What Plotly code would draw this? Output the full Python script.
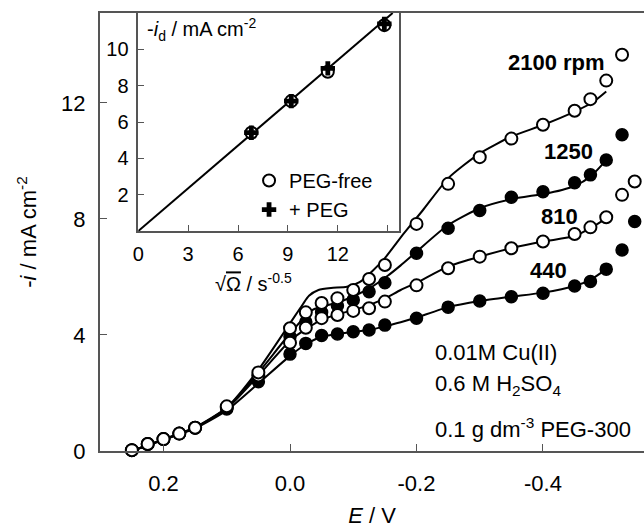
import plotly.graph_objects as go

FONT = "Arial, Liberation Sans, sans-serif"
AXC = "#555555"

# ---- main panel: polarisation curves ------------------------------------
# potential E / V at which currents were sampled
E_pts = [0.25, 0.225, 0.2, 0.175, 0.15, 0.1, 0.05, 0.0, -0.025, -0.05, -0.075,
         -0.1, -0.125, -0.15, -0.2, -0.25, -0.3, -0.35, -0.4, -0.45, -0.475,
         -0.5, -0.525]
E_pts_long = E_pts + [-0.545]

# measured -i / mA cm^-2
i_2100 = [0.03, 0.24, 0.41, 0.60, 0.80, 1.54, 2.71, 4.23, 4.78, 5.10, 5.27,
          5.55, 5.93, 6.41, 7.83, 9.21, 10.13, 10.77, 11.25, 11.73, 12.13,
          12.77, 13.66]
i_1250 = [0.03, 0.24, 0.41, 0.60, 0.80, 1.50, 2.60, 3.95, 4.45, 4.78, 5.01,
          5.21, 5.49, 5.80, 6.82, 7.68, 8.29, 8.75, 8.94, 9.25, 9.52,
          10.03, 10.90]
i_810 = [0.03, 0.24, 0.41, 0.60, 0.80, 1.50, 2.60, 3.73, 4.25, 4.58, 4.69,
         4.83, 4.92, 5.15, 5.71, 6.30, 6.70, 6.99, 7.22, 7.48, 7.71,
         8.06, 8.83, 9.29]
i_440 = [0.03, 0.24, 0.41, 0.60, 0.80, 1.45, 2.39, 3.34, 3.71, 3.98, 4.03,
         4.11, 4.17, 4.34, 4.58, 4.96, 5.17, 5.32, 5.44, 5.69, 5.84,
         6.27, 6.93, 7.91]

# model curves
E_fit_2100 = [0.25, 0.2, 0.15, 0.1, 0.05, 0.0, -0.02, -0.03, -0.045, -0.065,
              -0.09, -0.11, -0.13, -0.15, -0.18, -0.21, -0.25, -0.3, -0.35,
              -0.4, -0.45, -0.48, -0.5]
i_fit_2100 = [0.0, 0.4, 0.82, 1.5, 2.8, 4.4, 5.05, 5.35, 5.55, 5.62, 5.66,
              5.82, 6.2, 6.65, 7.5, 8.3, 9.4, 10.26, 10.84, 11.24, 11.7,
              12.04, 12.39]
E_fit_1250 = [0.25, 0.2, 0.15, 0.1, 0.05, 0.0, -0.035, -0.08, -0.125, -0.155,
              -0.175, -0.2, -0.25, -0.3, -0.35, -0.4, -0.43, -0.45, -0.475,
              -0.5]
i_fit_1250 = [0.0, 0.4, 0.8, 1.48, 2.7, 4.05, 4.86, 5.15, 5.6, 6.05, 6.4,
              6.87, 7.79, 8.37, 8.68, 8.86, 9.0, 9.14, 9.46, 10.03]
E_fit_810 = [0.25, 0.2, 0.15, 0.1, 0.05, 0.0, -0.025, -0.05, -0.075, -0.1,
             -0.125, -0.15, -0.175, -0.2, -0.25, -0.3, -0.35, -0.4, -0.45,
             -0.475, -0.5]
i_fit_810 = [0.0, 0.4, 0.8, 1.46, 2.6, 3.8, 4.2, 4.52, 4.71, 4.86, 5.03,
             5.26, 5.55, 5.8, 6.36, 6.7, 6.99, 7.22, 7.41, 7.68, 8.02]
E_fit_440 = [0.25, 0.2, 0.15, 0.1, 0.05, 0.0, -0.025, -0.05, -0.075, -0.1,
             -0.125, -0.15, -0.175, -0.2, -0.25, -0.3, -0.35, -0.4, -0.45,
             -0.475, -0.5]
i_fit_440 = [0.0, 0.38, 0.78, 1.4, 2.33, 3.28, 3.68, 3.94, 4.03, 4.11, 4.17,
             4.3, 4.44, 4.6, 4.96, 5.17, 5.32, 5.46, 5.69, 5.9, 6.27]

# curve labels
rpm_labels = ["2100 rpm", "1250", "810", "440"]
rpm_label_E = [-0.422, -0.441, -0.426, -0.408]
rpm_label_i = [13.41, 10.31, 8.09, 6.24]

x_ticks = [0.2, 0.0, -0.2, -0.4]
x_ticktext = ["0.2", "0.0", "-0.2", "-0.4"]
y_ticks = [0, 4, 8, 12]

# ---- inset: Levich plot -------------------------------------------------
sqrt_omega = [6.8, 9.2, 11.4, 14.8]
id_peg_free = [5.41, 7.15, 8.77, 11.33]
id_peg = [5.41, 7.15, 8.95, 11.40]
levich_x = [0, 15.3]
levich_y = [0, 12.0]
inset_xticks = [0, 3, 6, 9, 12, 15]
inset_xticktext = ["0", "3", "6", "9", "12", ""]
inset_yticks = [2, 4, 6, 8, 10]

fig = go.Figure()

line_style = dict(color="black", width=2, shape="spline", smoothing=0.6)
for ex, iy in [(E_fit_2100, i_fit_2100), (E_fit_1250, i_fit_1250),
               (E_fit_810, i_fit_810), (E_fit_440, i_fit_440)]:
    fig.add_trace(go.Scatter(x=ex, y=iy, mode="lines", line=line_style,
                             showlegend=False, hoverinfo="skip"))

filled = dict(symbol="circle", size=12, color="black",
              line=dict(color="black", width=1.5))
hollow = dict(symbol="circle", size=12, color="white",
              line=dict(color="black", width=2))
fig.add_trace(go.Scatter(x=E_pts_long, y=i_440, mode="markers", marker=filled,
                         showlegend=False, cliponaxis=False))
fig.add_trace(go.Scatter(x=E_pts, y=i_1250, mode="markers", marker=filled,
                         showlegend=False, cliponaxis=False))
fig.add_trace(go.Scatter(x=E_pts_long, y=i_810, mode="markers", marker=hollow,
                         showlegend=False, cliponaxis=False))
fig.add_trace(go.Scatter(x=E_pts, y=i_2100, mode="markers", marker=hollow,
                         showlegend=False, cliponaxis=False))

# inset traces
fig.add_trace(go.Scatter(x=levich_x, y=levich_y, mode="lines",
                         line=dict(color="black", width=2),
                         xaxis="x2", yaxis="y2", showlegend=False))
fig.add_trace(go.Scatter(x=sqrt_omega, y=id_peg_free, mode="markers",
                         name="PEG-free", xaxis="x2", yaxis="y2",
                         marker=dict(symbol="circle", size=12, color="white",
                                     line=dict(color="black", width=2))))
fig.add_trace(go.Scatter(x=sqrt_omega, y=id_peg, mode="markers",
                         name="+ PEG", xaxis="x2", yaxis="y2",
                         marker=dict(symbol="cross", size=12, color="black",
                                     line=dict(width=0))))

annotations = []
for txt, ex, iy in zip(rpm_labels, rpm_label_E, rpm_label_i):
    annotations.append(dict(x=ex, y=iy, xref="x", yref="y", text=f"<b>{txt}</b>",
                            showarrow=False, font=dict(size=22, family=FONT,
                                                       color="black")))

for txt, yy in [("0.01M Cu(II)", 0.2249),
                ("0.6 M H<sub>2</sub>SO<sub>4</sub>", 0.150),
                ("0.1 g dm<sup>-3</sup> PEG-300", 0.052)]:
    annotations.append(dict(x=0.612, y=yy, xref="paper", yref="paper",
                            xanchor="left", yanchor="middle", text=txt,
                            showarrow=False,
                            font=dict(size=22, family=FONT, color="black")))

# inset axis titles
annotations.append(dict(x=0.083, y=0.962, xref="paper", yref="paper",
                        xanchor="left", yanchor="middle",
                        text="-<i>i</i><sub>d</sub> / mA cm<sup>-2</sup>",
                        showarrow=False,
                        font=dict(size=20, family=FONT, color="black")))
annotations.append(dict(x=0.283, y=0.384, xref="paper", yref="paper",
                        xanchor="center", yanchor="middle",
                        text="\u221a<span style='text-decoration:overline'>\u03a9</span> / s<sup>-0.5</sup>",
                        showarrow=False,
                        font=dict(size=20, family=FONT, color="black")))

fig.update_layout(
    width=644, height=528,
    margin=dict(l=100, r=0, t=13, b=77),
    paper_bgcolor="white", plot_bgcolor="white",
    font=dict(family=FONT, size=22, color="black"),
    xaxis=dict(range=[0.3004, -0.5597], tickvals=x_ticks, ticktext=x_ticktext,
               ticks="inside", ticklen=7, tickcolor=AXC, tickwidth=1,
               showline=True, linecolor=AXC, linewidth=2, mirror=True,
               showgrid=False, zeroline=False, ticklabelstandoff=12,
               automargin=False,
               title=dict(text="<i>E</i> / V", font=dict(size=22), standoff=20)),
    yaxis=dict(range=[0, 15.1], tickvals=y_ticks, ticks="inside", ticklen=7,
               tickcolor=AXC, tickwidth=1, showline=True, linecolor=AXC,
               linewidth=2, showgrid=False, zeroline=False,
               ticklabelstandoff=8, automargin=False,
               title=dict(text="-<i>i</i> / mA cm<sup>-2</sup>",
                          font=dict(size=22), standoff=18)),
    xaxis2=dict(domain=[0.0704, 0.5502], anchor="y2", range=[0, 15.7],
                tickvals=inset_xticks, ticktext=inset_xticktext,
                ticks="inside", ticklen=6, tickcolor=AXC, tickwidth=1,
                showline=True, linecolor=AXC, linewidth=1.5, mirror=True,
                showgrid=False, zeroline=False, tickfont=dict(size=20),
                ticklabelstandoff=4, automargin=False),
    yaxis2=dict(domain=[0.5023, 1.0], anchor="x2", range=[0, 12],
                tickvals=inset_yticks, ticks="inside", ticklen=6,
                tickcolor=AXC, tickwidth=1, showline=True, linecolor=AXC,
                linewidth=1.5, mirror=True, showgrid=False, zeroline=False,
                tickfont=dict(size=20), ticklabelstandoff=4,
                automargin=False),
    legend=dict(x=0.274, y=0.662, xanchor="left", yanchor="top",
                bgcolor="rgba(0,0,0,0)", font=dict(size=20, family=FONT),
                itemwidth=30, tracegroupgap=0),
    annotations=annotations,
)

fig.write_html("out.html")
